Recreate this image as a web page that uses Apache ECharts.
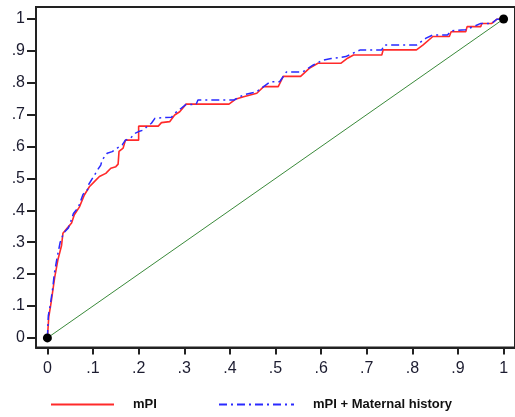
<!DOCTYPE html>
<html><head><meta charset="utf-8">
<script src="https://cdn.jsdelivr.net/npm/echarts@6/dist/echarts.min.js"></script>
<style>html,body{margin:0;padding:0;background:#fff}#c{width:515px;height:417px}</style>
</head><body><div id="c"></div>
<script>
const tickValues = [0,0.1,0.2,0.3,0.4,0.5,0.6,0.7,0.8,0.9,1];
const seriesNames = ['mPI', 'mPI + Maternal history'];
const mPI = [[0,0],[0.003,0.066],[0.008,0.11],[0.012,0.15],[0.016,0.19],[0.023,0.245],[0.031,0.29],[0.034,0.328],[0.044,0.345],[0.053,0.36],[0.059,0.386],[0.07,0.41],[0.081,0.448],[0.092,0.474],[0.103,0.49],[0.114,0.506],[0.128,0.516],[0.139,0.532],[0.15,0.537],[0.155,0.545],[0.157,0.585],[0.166,0.595],[0.171,0.62],[0.2,0.62],[0.2,0.664],[0.243,0.664],[0.25,0.675],[0.268,0.678],[0.279,0.699],[0.29,0.709],[0.304,0.733],[0.398,0.733],[0.412,0.748],[0.43,0.756],[0.459,0.767],[0.474,0.788],[0.506,0.788],[0.517,0.82],[0.555,0.82],[0.574,0.845],[0.593,0.861],[0.643,0.861],[0.658,0.877],[0.671,0.887],[0.733,0.887],[0.736,0.903],[0.809,0.903],[0.823,0.918],[0.845,0.945],[0.881,0.945],[0.885,0.96],[0.917,0.96],[0.92,0.976],[0.95,0.976],[0.952,0.986],[0.974,0.986],[0.985,0.999],[1,1]];
const mPIMaternal = [[0,0],[0.002,0.07],[0.006,0.1],[0.012,0.16],[0.015,0.2],[0.021,0.25],[0.028,0.3],[0.036,0.33],[0.046,0.345],[0.05,0.36],[0.057,0.39],[0.068,0.41],[0.078,0.45],[0.088,0.465],[0.09,0.48],[0.103,0.51],[0.11,0.527],[0.117,0.542],[0.12,0.558],[0.131,0.579],[0.142,0.584],[0.153,0.595],[0.164,0.605],[0.171,0.62],[0.182,0.626],[0.193,0.642],[0.2,0.647],[0.211,0.652],[0.218,0.662],[0.228,0.673],[0.236,0.689],[0.272,0.692],[0.279,0.704],[0.304,0.732],[0.326,0.732],[0.33,0.746],[0.409,0.746],[0.43,0.762],[0.459,0.772],[0.488,0.803],[0.509,0.803],[0.524,0.834],[0.56,0.834],[0.582,0.855],[0.604,0.871],[0.622,0.876],[0.654,0.882],[0.669,0.892],[0.686,0.903],[0.733,0.903],[0.738,0.918],[0.809,0.918],[0.83,0.94],[0.845,0.95],[0.877,0.95],[0.885,0.963],[0.917,0.966],[0.95,0.986],[0.974,0.986],[0.985,0.999],[1,1]];
const reference = [[0,0],[1,1]];

const fmt = v => { const r = Math.round(v*10)/10; if (r === 0) return '0'; if (r === 1) return '1'; return r.toFixed(1).replace(/^0/, ''); };
const txt = '#1c1c30';
const legendText = { fontSize: 13, fontWeight: 'bold', fontFamily: 'Liberation Sans, Arial', color: '#111', padding: [0,0,0,14] };
const chart = echarts.init(document.getElementById('c'), null, {renderer:'canvas'});
chart.setOption({
  animation: false,
  backgroundColor: '#fff',
  grid: { left: 36, top: 7, width: 485.6, height: 340.5, show: true, borderColor: '#222', borderWidth: 2, containLabel: false },
  xAxis: {
    type: 'value', min: -0.025, max: 1.025,
    splitLine: { show: false },
    axisLine: { show: true, onZero: false, lineStyle: { color: '#222', width: 2 } },
    axisTick: { show: true, customValues: tickValues, length: 7, lineStyle: { color: '#222', width: 2 } },
    axisLabel: { customValues: tickValues, formatter: fmt, margin: 13, fontSize: 16, fontFamily: 'Liberation Sans, Arial', color: txt }
  },
  yAxis: {
    type: 'value', min: -0.03, max: 1.0375,
    splitLine: { show: false },
    axisLine: { show: true, onZero: false, lineStyle: { color: '#222', width: 2 } },
    axisTick: { show: true, customValues: tickValues, length: 9, lineStyle: { color: '#222', width: 2 } },
    axisLabel: { customValues: tickValues, formatter: fmt, margin: 11, fontSize: 16, fontFamily: 'Liberation Sans, Arial', color: txt }
  },
  legend: [
    { data: [seriesNames[0]], top: 398, left: 50, padding: 0, itemWidth: 63, itemHeight: 14, itemStyle: { opacity: 0 }, textStyle: legendText },
    { data: [seriesNames[1]], top: 398, left: 218, padding: 0, itemWidth: 75, itemHeight: 14, itemStyle: { opacity: 0 }, textStyle: legendText }
  ],
  series: [
    { name: seriesNames[0], type: 'line', data: mPI, symbol: 'none', lineStyle: { color: '#ff2a2a', width: 1.6 }, itemStyle: { color: '#ff2a2a' }, z: 3 },
    { name: seriesNames[1], type: 'line', data: mPIMaternal, symbol: 'none', lineStyle: { color: '#2a2aff', width: 1.5, type: [8,4,2,4] }, itemStyle: { color: '#2a2aff' }, z: 4 },
    { name: 'reference', type: 'line', data: reference, symbol: 'circle', symbolSize: 9, itemStyle: { color: '#000' }, lineStyle: { color: '#3a8a3a', width: 1 }, z: 5 }
  ]
});
</script></body></html>
